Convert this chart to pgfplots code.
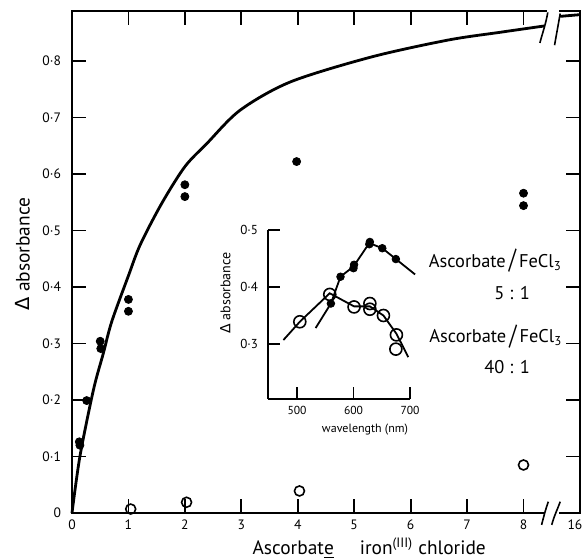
\documentclass[border=0pt]{standalone}
\usepackage{fontspec}
\setmainfont{PT Sans}
\newfontfamily\dejavu{DejaVu Sans}
\usepackage{graphicx}
\usepackage{pgfplots}
\pgfplotsset{compat=1.18}
\newcommand{\tallslash}{\,\raisebox{-0.15ex}{\scalebox{1.1}[1.5]{/}}\,}
\begin{document}
\begin{tikzpicture}
\useasboundingbox (-36pt,-22pt) rectangle (255.5pt,256.5pt);
% main plot
\begin{axis}[
    at={(0,0)}, anchor=south west,
    x=28.22pt, y=282.5pt,
    xmin=0, xmax=9, ymin=0, ymax=0.888,
    axis line style={line width=0.9pt},
    tick style={line width=0.9pt, black},
    tick align=inside,
    major tick length=7pt,
    xtick={0,1,2,3,4,5,6,7,8,9},
    xticklabels={0,1,2,3,4,5,6,7,8,\hspace*{-5pt}16},
    ytick={0,0.1,0.2,0.3,0.4,0.5,0.6,0.7,0.8},
    yticklabels={0,0·1,0·2,0·3,0·4,0·5,0·6,0·7,0·8},
    ticklabel style={font=\fontsize{6.8}{8}\selectfont},
    yticklabel style={xshift=-2pt},
    clip=false,
]
% fitted curve, two pieces either side of the axis break
\addplot[black, line width=1.4pt, smooth, no marks] coordinates {
    (0,0) (0.14,0.1) (0.38,0.218) (0.556,0.283) (0.705,0.339)
    (1.0,0.42) (1.21,0.475) (1.59,0.548) (2.0,0.613) (2.39,0.654)
    (2.98,0.713) (3.87,0.763) (5.3,0.807) (6.66,0.837) (7.6,0.851)
    (8.37,0.862)
};
\addplot[black, line width=1.4pt, no marks] coordinates {
    (8.65,0.879) (9,0.882)
};
% 5:1 series
\addplot[only marks, mark=*, mark size=2pt, black] coordinates {
    (0.13,0.126) (0.14,0.120) (0.26,0.199) (0.50,0.304) (0.51,0.291)
    (1.0,0.378) (1.0,0.357) (2.0,0.581) (2.0,0.560) (3.98,0.622)
    (8.0,0.566) (8.0,0.544)
};
% 40:1 series
\addplot[only marks, mark=o, mark size=2.5pt, black, line width=0.8pt] coordinates {
    (1.04,0.007) (2.03,0.019) (4.03,0.039) (8.0,0.085)
};
% axis breaks
\fill[white] (axis cs:8.36,-0.004) rectangle (axis cs:8.62,0.004);
\fill[white] (axis cs:8.42,0.884) rectangle (axis cs:8.62,0.892);
\draw[line width=0.8pt] (axis cs:8.32,-0.021) to[out=75,in=-110] (axis cs:8.44,0.020);
\draw[line width=0.8pt] (axis cs:8.50,-0.021) to[out=75,in=-110] (axis cs:8.65,0.020);
\draw[line width=0.8pt] (axis cs:8.29,0.832) to[out=75,in=-100] (axis cs:8.43,0.886);
\draw[line width=0.8pt] (axis cs:8.55,0.828) to[out=80,in=-100] (axis cs:8.65,0.884);
% labels
\node[rotate=90, font=\fontsize{9.7}{11}\selectfont] at (axis description cs:-0.097,0.516)
    {{\dejavu Δ} absorbance};
\node[font=\fontsize{9.7}{11}\selectfont] at (axis description cs:0.585,-0.07)
    {Ascorbat\underline{e}\hspace{13pt}iron\textsuperscript{(III)} chloride};
\node[font=\fontsize{9.2}{10}\selectfont] at (axis cs:7.50,0.446) {Ascorbate\tallslash FeCl\textsubscript{3}};
\node[font=\fontsize{9.2}{10}\selectfont] at (axis cs:7.80,0.389) {5 : 1};
\node[font=\fontsize{9.2}{10}\selectfont] at (axis cs:7.51,0.313) {Ascorbate\tallslash FeCl\textsubscript{3}};
\node[font=\fontsize{9.2}{10}\selectfont] at (axis cs:7.71,0.258) {40 : 1};
\end{axis}
% inset: spectra
\begin{axis}[
    at={(98pt,57pt)}, anchor=south west,
    x=0.2825pt, y=285pt,
    xmin=448.7, xmax=700, ymin=0.2035, ymax=0.5,
    axis x line*=bottom, axis y line*=left,
    axis line style={-, line width=0.9pt},
    tick style={line width=0.9pt, black},
    tick align=inside,
    major tick length=6pt,
    xtick={500,600,700}, xticklabels={500,600,700},
    ytick={0.3,0.4,0.5}, yticklabels={0·3,0·4,0·5},
    xticklabel style={font=\fontsize{5.8}{7}\selectfont},
    yticklabel style={font=\fontsize{6.5}{8}\selectfont, xshift=-1.5pt},
    clip=false,
]
\addplot[black, line width=0.9pt, no marks] coordinates {
    (533,0.328) (560,0.371) (577,0.418) (600,0.436) (628,0.477)
    (651,0.468) (675,0.449) (709,0.422)
};
\addplot[only marks, mark=*, mark size=1.9pt, black] coordinates {
    (560,0.371) (577,0.418) (600,0.433) (601,0.439) (628,0.475)
    (629,0.479) (651,0.468) (675,0.449)
};
\addplot[black, line width=0.9pt, no marks] coordinates {
    (476,0.307) (505,0.339) (558,0.389) (601,0.366) (629,0.366)
    (653,0.350) (676,0.318) (697,0.277)
};
\addplot[only marks, mark=o, mark size=3pt, black, line width=0.8pt,
    mark options={fill=white}] coordinates {
    (505,0.339) (558,0.387) (601,0.365) (629,0.371) (629,0.361)
    (653,0.350) (676,0.316) (675,0.291)
};
\node[rotate=90, font=\fontsize{7}{8}\selectfont] at (axis description cs:-0.30,0.627)
    {{\dejavu Δ} absorbance};
\node[font=\fontsize{6}{7}\selectfont] at (axis description cs:0.683,-0.178)
    {wavelength (nm)};
\end{axis}
\end{tikzpicture}
\end{document}
